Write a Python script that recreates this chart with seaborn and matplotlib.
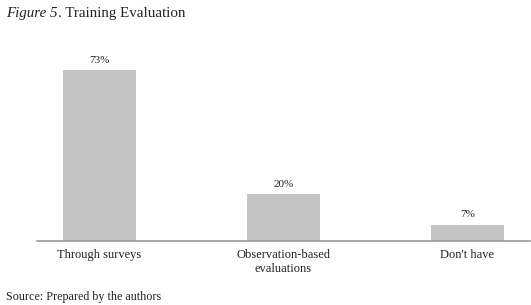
import matplotlib
matplotlib.use("Agg")
import matplotlib.pyplot as plt
import seaborn as sns
import pandas as pd

categories = ["Through surveys", "Observation-based\nevaluations", "Don't have"]
values = [73, 20, 7]
value_labels = ["73%", "20%", "7%"]

sns.set_theme(style="white")
plt.rcParams["font.family"] = ["Liberation Serif", "DejaVu Serif"]

df = pd.DataFrame({"cat": categories, "val": values})

fig = plt.figure(figsize=(5.31, 3.05), dpi=100)
ax = fig.add_axes([37 / 531, 1 - 241 / 305, 493 / 531, 187.2 / 305])
sns.barplot(data=df, x="cat", y="val", color="#c4c4c4", width=0.4,
            saturation=1, linewidth=0, ax=ax)
ax.set_xlim(-0.34, 2.34)
ax.set_ylim(0, 80)

for i, (v, lab) in enumerate(zip(values, value_labels)):
    ax.annotate(lab, (i, v), xytext=(0, 4), textcoords="offset points",
                ha="center", va="bottom", fontsize=8, color="#222222")

ax.set_xlabel("")
ax.set_ylabel("")
ax.set_yticks([])
ax.tick_params(axis="x", length=0, pad=6, labelsize=9, colors="#222222")
for s in ["top", "right", "left"]:
    ax.spines[s].set_visible(False)
ax.spines["bottom"].set_color("#999999")
ax.spines["bottom"].set_linewidth(1.2)

# title: italic "Figure 5" followed by upright text
t1 = fig.text(6 / 531, 1 - 13 / 305, "Figure 5", fontsize=10.8, style="italic",
              va="center", color="#222222")
fig.canvas.draw()
bb = t1.get_window_extent()
fig.text(bb.x1 / 531, 1 - 13 / 305, ". Training Evaluation", fontsize=10.8,
         va="center", color="#222222")
fig.text(6 / 531, 1 - 297 / 305, "Source: Prepared by the authors",
         fontsize=8.7, va="center", color="#222222")

fig.savefig("out.png", dpi=100)
